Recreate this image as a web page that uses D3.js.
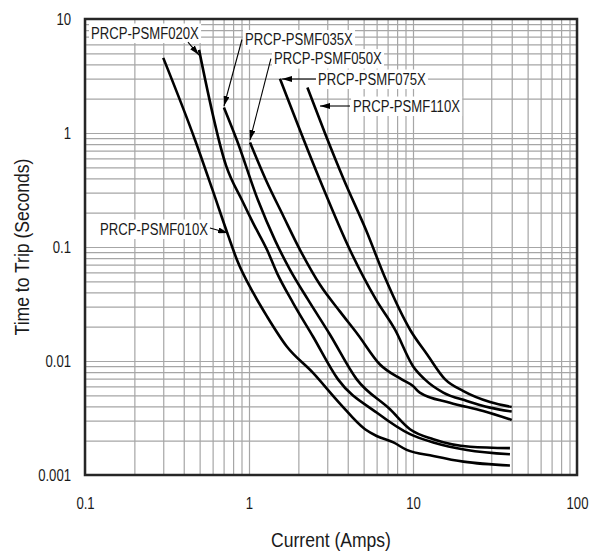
<!doctype html>
<html lang="en">
<head>
  <meta charset="utf-8">
  <title>PRCP-PSMF time to trip</title>
  <script src="https://cdn.jsdelivr.net/npm/d3@7"></script>
  <style>
    body { margin: 0; background: #fff; }
    text { font-family: "Liberation Sans", Arial, sans-serif; fill: #1a1a1a; }
  </style>
</head>
<body>
  <svg id="chart" width="589" height="556"></svg>
  <script>
    // tick labels
    const xTicks = [0.1, 1, 10, 100];
    const xTickLabels = ["0.1", "1", "10", "100"];
    const yTicks = [0.001, 0.01, 0.1, 1, 10];
    const yTickLabels = ["0.001", "0.01", "0.1", "1", "10"];

    // [current (A), time to trip (s)]
    const psmf010 = [[0.30, 4.56], [0.47, 0.86], [0.60, 0.315], [0.745, 0.127], [0.845, 0.077],
      [1.06, 0.0397], [1.29, 0.0245], [1.70, 0.0134], [2.45, 0.0079], [3.55, 0.0043], [5.1, 0.00252],
      [6.0, 0.0022], [7.6, 0.00193], [9.15, 0.00166], [13.3, 0.00147], [20.3, 0.00131], [39, 0.00121]];
    const psmf020 = [[0.496, 5.36], [0.724, 0.52], [0.919, 0.247], [1.06, 0.162], [1.29, 0.094],
      [1.48, 0.0593], [1.855, 0.0324], [2.455, 0.0164], [3.49, 0.0069], [6.0, 0.00353],
      [9.59, 0.00228], [13.3, 0.00193], [21.3, 0.00166], [39, 0.00152]];
    const psmf035 = [[0.704, 1.67], [0.845, 0.86], [1.135, 0.257], [1.44, 0.115], [1.78, 0.063],
      [2.29, 0.0345], [3.12, 0.017], [4.54, 0.0069], [7.24, 0.00377], [9.59, 0.00252], [13.3, 0.00206],
      [22.3, 0.00177], [39, 0.00172]];
    const psmf050 = [[1.014, 0.826], [1.27, 0.385], [1.61, 0.19], [2.05, 0.094], [2.71, 0.0466],
      [3.59, 0.0271], [4.62, 0.017], [6.29, 0.00932], [8.53, 0.0069], [10.0, 0.00603], [11.0, 0.00528],
      [16.8, 0.00431], [26.8, 0.00364], [40, 0.00304]];
    const psmf075 = [[1.545, 2.99], [2.71, 0.385], [4.13, 0.094], [5.95, 0.0345], [7.77, 0.0188],
      [10.0, 0.009], [11.8, 0.0069], [15.3, 0.00528], [21.3, 0.00446], [29.5, 0.0039], [40, 0.0036]];
    const psmf110 = [[2.27, 2.51], [2.91, 0.99], [3.80, 0.385], [5.17, 0.141], [6.84, 0.0515],
      [9.6, 0.0188], [12.2, 0.0114], [15.7, 0.0069], [20.3, 0.00545], [29.5, 0.00437], [40, 0.00395]];

    const series = [psmf010, psmf020, psmf035, psmf050, psmf075, psmf110];

    // callouts: text anchor and leader path (last point = arrow tip), in data units
    const callouts = [
      { text: "PRCP-PSMF020X", at: [0.1088, 7.54], anchor: "start", leader: [[0.4246, 6.28], [0.4955, 4.83]] },
      { text: "PRCP-PSMF035X", at: [0.945, 6.61], anchor: "start", leader: [[0.906, 6.61], [0.704, 1.725]] },
      { text: "PRCP-PSMF050X", at: [1.42, 4.50], anchor: "start", leader: [[1.36, 4.50], [1.014, 0.868]] },
      { text: "PRCP-PSMF075X", at: [2.634, 2.977], anchor: "start", leader: [[2.56, 2.977], [1.589, 2.977]] },
      { text: "PRCP-PSMF110X", at: [4.31, 1.725], anchor: "start", leader: [[4.13, 1.725], [2.71, 1.725]] },
      { text: "PRCP-PSMF010X", at: [0.562, 0.1438], anchor: "end", leader: [[0.578, 0.1468], [0.745, 0.1327]] }
    ];

    const narrow = 0.82;
    const svg = d3.select("#chart");

    const x = d3.scaleLog().domain([0.1, 100]).range([85, 577]);
    const y = d3.scaleLog().domain([0.001, 10]).range([475, 19]);
    const [x0, x1] = x.range();
    const [y0, y1] = y.range();

    svg.append("defs").append("marker")
      .attr("id", "arrow")
      .attr("viewBox", "0 0 10 6")
      .attr("refX", 10).attr("refY", 3)
      .attr("markerWidth", 10).attr("markerHeight", 6)
      .attr("markerUnits", "userSpaceOnUse")
      .attr("orient", "auto")
      .append("path").attr("d", "M0,0L10,3L0,6Z").attr("fill", "#000");

    // grid
    svg.append("g")
      .attr("transform", `translate(0,${y0})`)
      .call(d3.axisBottom(x).tickValues(x.ticks()).tickSize(-(y0 - y1)).tickFormat(""))
      .call(g => g.select(".domain").remove())
      .selectAll("line").attr("stroke", "#a6a6a6").attr("stroke-width", 1.2);

    svg.append("g")
      .attr("transform", `translate(${x0},0)`)
      .call(d3.axisLeft(y).tickValues(y.ticks()).tickSize(-(x1 - x0)).tickFormat(""))
      .call(g => g.select(".domain").remove())
      .selectAll("line").attr("stroke", "#a6a6a6").attr("stroke-width", 1.2);

    // tick labels
    const xAxis = svg.append("g")
      .attr("transform", `translate(0,${y0})`)
      .call(d3.axisBottom(x).tickValues(xTicks).tickSize(0).tickFormat((d, i) => xTickLabels[i]));
    xAxis.select(".domain").remove();
    xAxis.attr("font-family", null).attr("font-size", 16);
    xAxis.selectAll("text").attr("y", 0).attr("dy", "0.35em")
      .attr("transform", `translate(0,28) scale(${narrow},1)`);

    const yAxis = svg.append("g")
      .attr("transform", `translate(${x0},0)`)
      .call(d3.axisLeft(y).tickValues(yTicks).tickSize(0).tickFormat((d, i) => yTickLabels[i]));
    yAxis.select(".domain").remove();
    yAxis.attr("font-family", null).attr("font-size", 16);
    yAxis.selectAll("text").attr("x", 0).attr("dy", "0.35em")
      .attr("transform", `translate(-14,0) scale(${narrow},1)`);

    // callout boxes + text
    const labels = svg.append("g").attr("font-size", 16);
    callouts.forEach(c => {
      const g = labels.append("g");
      const box = g.append("rect").attr("fill", "#fff");
      const t = g.append("text")
        .attr("text-anchor", c.anchor)
        .attr("dy", "0.36em")
        .attr("transform", `translate(${x(c.at[0])},${y(c.at[1])}) scale(${narrow},1)`)
        .text(c.text);
      const b = t.node().getBBox();
      const tx = x(c.at[0]), ty = y(c.at[1]);
      box.attr("x", tx + b.x * narrow - 2).attr("y", ty + b.y - 1)
        .attr("width", b.width * narrow + 4).attr("height", b.height + 2);
    });

    // curves
    const line = d3.line()
      .x(d => x(d[0]))
      .y(d => y(d[1]))
      .curve(d3.curveMonotoneX);

    svg.append("g").selectAll("path")
      .data(series)
      .join("path")
      .attr("d", line)
      .attr("fill", "none")
      .attr("stroke", "#000")
      .attr("stroke-width", 2.6)
      .attr("stroke-linejoin", "round");

    // leaders
    svg.append("g").selectAll("path")
      .data(callouts)
      .join("path")
      .attr("d", c => d3.line().x(d => x(d[0])).y(d => y(d[1]))(c.leader))
      .attr("fill", "none")
      .attr("stroke", "#000")
      .attr("stroke-width", 1.1)
      .attr("marker-end", "url(#arrow)");

    // frame
    svg.append("rect")
      .attr("x", x0).attr("y", y1)
      .attr("width", x1 - x0).attr("height", y0 - y1)
      .attr("fill", "none")
      .attr("stroke", "#262626")
      .attr("stroke-width", 2.5);

    // axis titles
    svg.append("text")
      .attr("text-anchor", "middle")
      .attr("font-size", 19.5)
      .attr("transform", `translate(${(x0 + x1) / 2},540) scale(0.9,1)`)
      .attr("dy", "0.35em")
      .text("Current (Amps)");

    svg.append("text")
      .attr("text-anchor", "middle")
      .attr("font-size", 19.5)
      .attr("transform", `translate(22,${(y0 + y1) / 2}) rotate(-90) scale(0.9,1)`)
      .attr("dy", "0.35em")
      .text("Time to Trip (Seconds)");
  </script>
</body>
</html>
